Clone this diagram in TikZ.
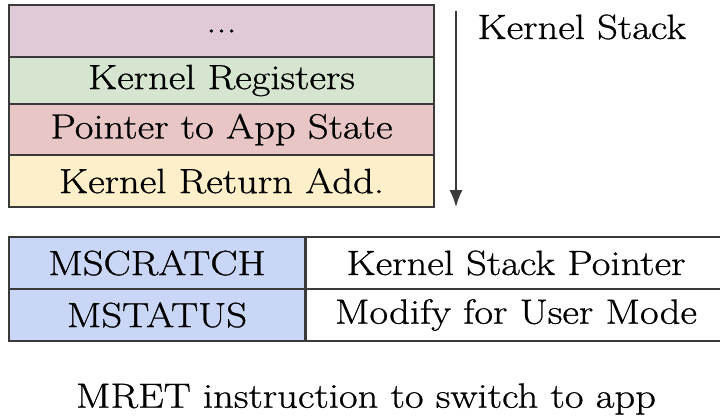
\documentclass[tikz,border=0pt]{standalone}
\usepackage{fontspec}
\newfontfamily\widefont{Latin Modern Roman}[FakeStretch=1.16,FakeBold=0.8]
\usetikzlibrary{arrows.meta}

\definecolor{edgegray}{HTML}{3A3A3A}
\definecolor{stackpurple}{HTML}{E0CAD8}
\definecolor{stackgreen}{HTML}{D6E5CF}
\definecolor{stackred}{HTML}{E8C6C6}
\definecolor{stackyellow}{HTML}{FCEFC9}
\definecolor{regblue}{HTML}{C9D6F5}

\tikzset{
  bigtext/.style={font=\widefont\fontsize{35}{40}\selectfont},
  stackrow/.style={draw=edgegray, line width=1.4pt, inner sep=0pt,
    minimum width=425pt, bigtext},
  regcell/.style={draw=edgegray, line width=1.4pt, inner sep=0pt,
    minimum height=52pt, bigtext},
}

\begin{document}
\begin{tikzpicture}[x=1pt,y=-1pt]
  \useasboundingbox (0,0) rectangle (720,415);
  \clip (0,0) rectangle (720,415);

  % kernel stack frames, top to bottom
  \node[stackrow, fill=stackpurple, minimum height=52pt] (dots)  at (221.5,31)    {...};
  \node[stackrow, fill=stackgreen,  minimum height=47pt] (kregs) at (221.5,80.5)  {Kernel Registers};
  \node[stackrow, fill=stackred,    minimum height=51pt] (pstate) at (221.5,129.5) {Pointer to App State};
  \node[stackrow, fill=stackyellow, minimum height=52pt] (kret)  at (221.5,181)   {Kernel Return Add.};

  % growth direction of the stack
  \coordinate (growtop) at (456,11);
  \coordinate (growbot) at (456,207);
  \draw[edgegray, line width=1.4pt, -{Latex[length=17pt,width=13pt]}] (growtop) -- (growbot);
  \node[bigtext, anchor=west] (kstack) at (474,27) {Kernel Stack};

  % machine registers set before returning
  \node[regcell, fill=regblue, minimum width=296pt] (mscratch) at (157,263) {MSCRATCH};
  \node[regcell, fill=white,   minimum width=420pt] (kspval)   at (516,263) {Kernel Stack Pointer};
  \node[regcell, fill=regblue, minimum width=296pt] (mstatus)  at (157,315) {MSTATUS};
  \node[regcell, fill=white,   minimum width=420pt] (modeval)  at (516,315) {Modify for User Mode};

  \node[bigtext] (mret) at (366,399) {MRET instruction to switch to app};
\end{tikzpicture}
\end{document}
